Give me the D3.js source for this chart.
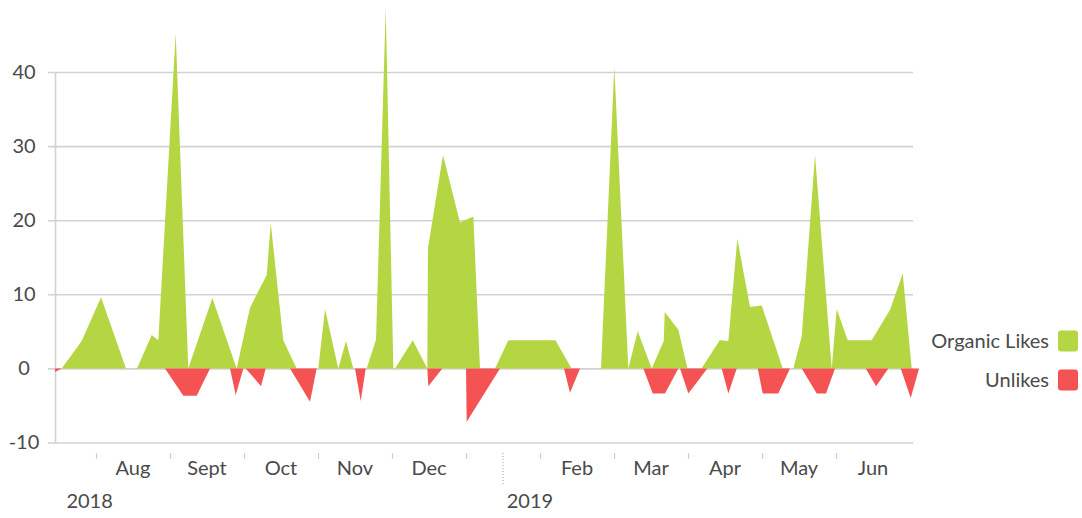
<!DOCTYPE html>
<html>
<head>
<meta charset="utf-8">
<script src="https://cdn.jsdelivr.net/npm/d3@7"></script>
<style>
  body { margin: 0; background: #fff; }
  text { font-family: Lato, "Open Sans", sans-serif; fill: #4a4a4a; }
</style>
</head>
<body>
<div class="chart"></div>
<script>
// Chart size
const w = 1082;
const h = 518;

// DATA //
// x is months since 1 Jul 2018 (1 = Aug, 6 = Jan 2019 ...)
const likes = [
  [0.536, 0], [0.807, 3.7], [1.068, 9.6], [1.405, 0], [1.554, 0], [1.753, 4.5],
  [1.842, 3.8], [2.077, 45.2], [2.247, 0], [2.572, 9.5], [2.901, 0], [3.081, 8.2],
  [3.307, 12.6], [3.361, 19.6], [3.531, 3.8], [3.712, 0], [4.004, 0], [4.095, 8],
  [4.274, 0], [4.378, 3.7], [4.477, 0], [4.658, 0], [4.784, 3.9], [4.915, 48.7],
  [5.018, 0], [5.041, 0], [5.28, 3.8], [5.477, 0], [5.486, 16.2], [5.689, 28.8],
  [5.919, 19.7], [6.099, 20.5], [6.189, 0], [6.392, 0], [6.572, 3.8], [7.209, 3.8],
  [7.426, 0], [7.824, 0], [8.004, 40.7], [8.193, 0], [8.32, 5], [8.509, 0],
  [8.672, 3.7], [8.685, 7.6], [8.869, 5.2], [8.993, 0], [9.182, 0], [9.428, 3.8],
  [9.545, 3.7], [9.666, 17.5], [9.838, 8.3], [9.996, 8.5], [10.28, 0], [10.423, 0],
  [10.536, 4.3], [10.716, 28.8], [10.942, 0], [11.009, 8], [11.158, 3.8],
  [11.482, 3.8], [11.73, 7.9], [11.901, 12.8], [12.023, 0]
];

const unlikes = [
  [0.446, -0.5], [0.536, 0], [1.932, 0], [2.18, -3.7], [2.361, -3.7], [2.541, 0],
  [2.811, 0], [2.888, -3.6], [2.991, 0], [3.023, 0], [3.23, -2.4], [3.293, 0],
  [3.622, 0], [3.892, -4.5], [3.982, 0], [4.5, 0], [4.577, -4.4], [4.645, 0],
  [5.477, 0], [5.491, -2.4], [5.68, 0], [6.0, 0], [6.009, -7.2], [6.459, 0],
  [7.324, 0], [7.405, -3.3], [7.541, 0], [8.396, 0], [8.523, -3.4], [8.689, -3.4],
  [8.869, 0], [8.892, 0], [9.004, -3.4], [9.261, 0], [9.455, 0], [9.545, -3.4],
  [9.658, 0], [9.942, 0], [10.009, -3.4], [10.22, -3.4], [10.378, 0], [10.536, 0],
  [10.739, -3.4], [10.865, -3.4], [10.986, 0], [11.401, 0], [11.541, -2.4],
  [11.707, 0], [11.874, 0], [12.009, -4], [12.122, 0]
];

// month boundaries (ticks) and labels centred in each month
const monthStarts = [1, 2, 3, 4, 5, 6, 7, 8, 9, 10, 11];
const monthLabels = ["Aug", "Sept", "Oct", "Nov", "Dec", null, "Feb", "Mar", "Apr", "May", "Jun"];
const years = [{ label: "2018", at: 0.6 }, { label: "2019", at: 6.55 }];
const yearBreak = 6.5;
const yTicks = [-10, 0, 10, 20, 30, 40];

const series = [
  { name: "Organic Likes", color: "#b5d643", data: likes },
  { name: "Unlikes", color: "#f55353", data: unlikes }
];

// Main svg
const svg = d3
  .select(".chart")
  .append("svg")
  .attr("width", w)
  .attr("height", h);

// SCALES //
const xScale = d3.scaleLinear().domain([0.446, 12.04]).range([55, 913]);
const yScale = d3.scaleLinear().domain([-10, 40]).range([442.5, 72]);

// GRID + Y AXIS //
const yAxis = svg
  .append("g")
  .attr("transform", "translate(48, 0)")
  .call(
    d3
      .axisLeft(yScale)
      .tickValues(yTicks)
      .tickSize(-(913 - 48))
      .tickFormat((d) => String(d))
  );

yAxis.select(".domain").remove();
yAxis.selectAll("line").attr("stroke", "#d2d2d2").attr("stroke-width", 1.6);
yAxis
  .selectAll("text")
  .attr("x", -24)
  .attr("text-anchor", "middle")
  .style("font-size", "20px");

// left axis line
svg
  .append("line")
  .attr("x1", 55.5)
  .attr("x2", 55.5)
  .attr("y1", yScale(40))
  .attr("y2", yScale(-10))
  .attr("stroke", "#d2d2d2")
  .attr("stroke-width", 1.6);

// AREAS //
const area = d3
  .area()
  .x((d) => xScale(d[0]))
  .y0(yScale(0))
  .y1((d) => yScale(d[1]));

svg
  .selectAll(".series")
  .data(series)
  .enter()
  .append("path")
  .attr("class", "series")
  .attr("d", (d) => area(d.data))
  .attr("fill", (d) => d.color);

// X AXIS //
const xAxis = svg
  .append("g")
  .attr("transform", "translate(0, 453)")
  .call(d3.axisBottom(xScale).tickValues(monthStarts).tickSize(6).tickFormat(""));

xAxis.select(".domain").remove();
xAxis.selectAll("line").attr("stroke", "#cfcfcf").attr("stroke-width", 1.2);

svg
  .selectAll(".month")
  .data(monthLabels.map((m, i) => ({ m: m, t: monthStarts[i] + 0.5 })).filter((d) => d.m))
  .enter()
  .append("text")
  .attr("class", "month")
  .attr("x", (d) => xScale(d.t))
  .attr("y", 475)
  .attr("text-anchor", "middle")
  .style("font-size", "20px")
  .text((d) => d.m);

// year separator
svg
  .append("line")
  .attr("x1", xScale(yearBreak))
  .attr("x2", xScale(yearBreak))
  .attr("y1", 453)
  .attr("y2", 486)
  .attr("stroke", "#9a9aa8")
  .attr("stroke-width", 1)
  .attr("stroke-dasharray", "1,2");

svg
  .selectAll(".year")
  .data(years)
  .enter()
  .append("text")
  .attr("class", "year")
  .attr("x", (d) => xScale(d.at))
  .attr("y", 508)
  .style("font-size", "20px")
  .text((d) => d.label);

// LEGEND //
const legend = svg
  .selectAll(".legend")
  .data(series)
  .enter()
  .append("g")
  .attr("class", "legend")
  .attr("transform", (d, i) => `translate(1049, ${341 + i * 39})`);

legend
  .append("text")
  .attr("text-anchor", "end")
  .attr("dy", "0.35em")
  .style("font-size", "20px")
  .text((d) => d.name);

legend
  .append("rect")
  .attr("x", 9)
  .attr("y", -10.5)
  .attr("width", 20)
  .attr("height", 21)
  .attr("rx", 3)
  .attr("fill", (d) => d.color);
</script>
</body>
</html>
